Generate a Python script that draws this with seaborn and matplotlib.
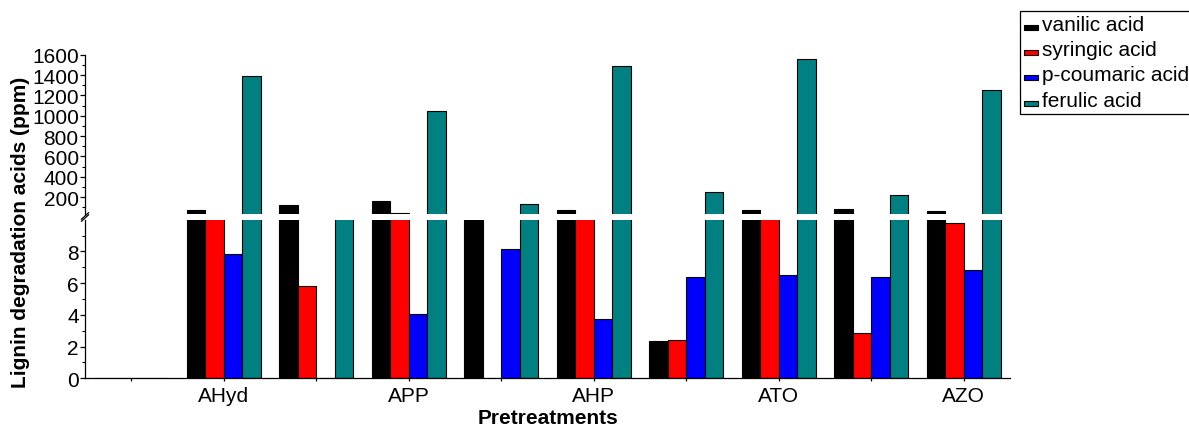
import matplotlib
matplotlib.use("Agg")
import matplotlib.pyplot as plt
from matplotlib.patches import Rectangle
from matplotlib.legend_handler import HandlerPatch
import seaborn as sns
import pandas as pd

# ---- data ----
categories = ["C0", "AHyd", "C2", "APP", "C4", "AHP", "C6", "ATO", "C8", "AZO"]
tick_labels = ["", "AHyd", "", "APP", "", "AHP", "", "ATO", "", "AZO"]
acids = ["vanilic acid", "syringic acid", "p-coumaric acid", "ferulic acid"]
vanilic = [0, 72, 124, 164, 20, 69, 2.33, 72, 82, 59]
syringic = [0, 20, 5.80, 42, 0, 20, 2.44, 20, 2.86, 9.80]
p_coumaric = [0, 7.82, 0, 4.06, 8.14, 3.72, 6.37, 6.50, 6.39, 6.83]
ferulic = [0, 1394, 20, 1043, 131, 1489, 252, 1555, 223, 1256]
colors = ["#000000", "#FF0000", "#0000FF", "#008080"]

lower_ticks = [0, 2, 4, 6, 8]
upper_ticks = [200, 400, 600, 800, 1000, 1200, 1400, 1600]

rows = []
for acid, vals in zip(acids, [vanilic, syringic, p_coumaric, ferulic]):
    for c, v in zip(categories, vals):
        rows.append({"Pretreatment": c, "Acid": acid, "Value": v})
df = pd.DataFrame(rows)

sns.set_theme(style="ticks")
plt.rcParams["font.family"] = ["Liberation Sans", "DejaVu Sans"]
plt.rcParams["axes.linewidth"] = 0.9
plt.rcParams["text.color"] = "black"
plt.rcParams["axes.labelcolor"] = "black"
plt.rcParams["xtick.color"] = "black"
plt.rcParams["ytick.color"] = "black"
plt.rcParams["axes.edgecolor"] = "black"

W, H = 1189, 427
fig = plt.figure(figsize=(W / 100, H / 100), dpi=100)
left = 85 / W
width = (1010 - 85) / W
ax_lo = fig.add_axes([left, (H - 379.3) / H, width, (379.3 - 220.7) / H])
ax_hi = fig.add_axes([left, (H - 215.3) / H, width, (215.3 - 55.7) / H])
ax_hi.patch.set_alpha(0)

for ax in (ax_lo, ax_hi):
    sns.barplot(data=df, x="Pretreatment", y="Value", hue="Acid",
                order=categories, hue_order=acids, palette=colors,
                saturation=1, errorbar=None, edgecolor="black",
                linewidth=0.8, width=0.8, legend=False, ax=ax)
    ax.set_xlim(-0.5, 9.5)
    ax.set_xlabel("")
    ax.set_ylabel("")
    for s in ("top", "right"):
        ax.spines[s].set_visible(False)
    ax.tick_params(axis="y", which="major", direction="out", length=3.5,
                   width=0.9, labelsize=15, pad=1, colors="black")
    ax.tick_params(axis="y", which="minor", direction="out", length=2,
                   width=0.8, colors="black")

ax_lo.set_ylim(0, 10)
ax_lo.set_yticks(lower_ticks)
ax_lo.set_yticks([1, 3, 5, 7, 9], minor=True)
ax_lo.set_xticks(range(len(categories)))
ax_lo.set_xticklabels(tick_labels)
ax_lo.tick_params(axis="x", direction="out", length=2.5, width=0.9,
                  labelsize=15, pad=3, colors="black")

ax_hi.set_ylim(30, 1600)
ax_hi.set_yticks(upper_ticks)
ax_hi.set_yticks(list(range(100, 1600, 200)), minor=True)
ax_hi.spines["bottom"].set_visible(False)
ax_hi.tick_params(axis="x", which="both", bottom=False, labelbottom=False)

# break symbol on the left spine
d = 0.035
kw = dict(color="black", lw=0.9, clip_on=False)
ax_hi.plot([-0.004, 0.004], [-d * 0.9, d * 0.3], transform=ax_hi.transAxes, **kw)
ax_lo.plot([-0.004, 0.004], [1 - d * 0.3, 1 + d * 0.9], transform=ax_lo.transAxes, **kw)

fig.text(548 / W, 1 - 419 / H, "Pretreatments", ha="center", va="center",
         fontsize=15, fontweight="bold")
fig.text(21 / W, 1 - 232 / H, "Lignin degradation acids (ppm)", ha="center",
         va="center", rotation=90, fontsize=15, fontweight="bold")


def flat_patch(legend, orig_handle, xdescent, ydescent, width, height, fontsize):
    return Rectangle((-xdescent, -ydescent), width, 0.24 * fontsize)


handles = [Rectangle((0, 0), 1, 1, facecolor=c, edgecolor="black", linewidth=0.8)
           for c in colors]
leg = fig.legend(handles, acids, loc="upper left",
                 bbox_to_anchor=(1019.5 / W, 1 - 11.7 / H),
                 bbox_transform=fig.transFigure, fontsize=15,
                 frameon=True, fancybox=False, shadow=False, framealpha=1,
                 edgecolor="black", borderpad=0.2, labelspacing=0.3,
                 handlelength=0.7, handleheight=0.7, handletextpad=0.2,
                 borderaxespad=0,
                 handler_map={Rectangle: HandlerPatch(patch_func=flat_patch)})
leg.get_frame().set_linewidth(0.9)

fig.savefig("out.png", dpi=100)
